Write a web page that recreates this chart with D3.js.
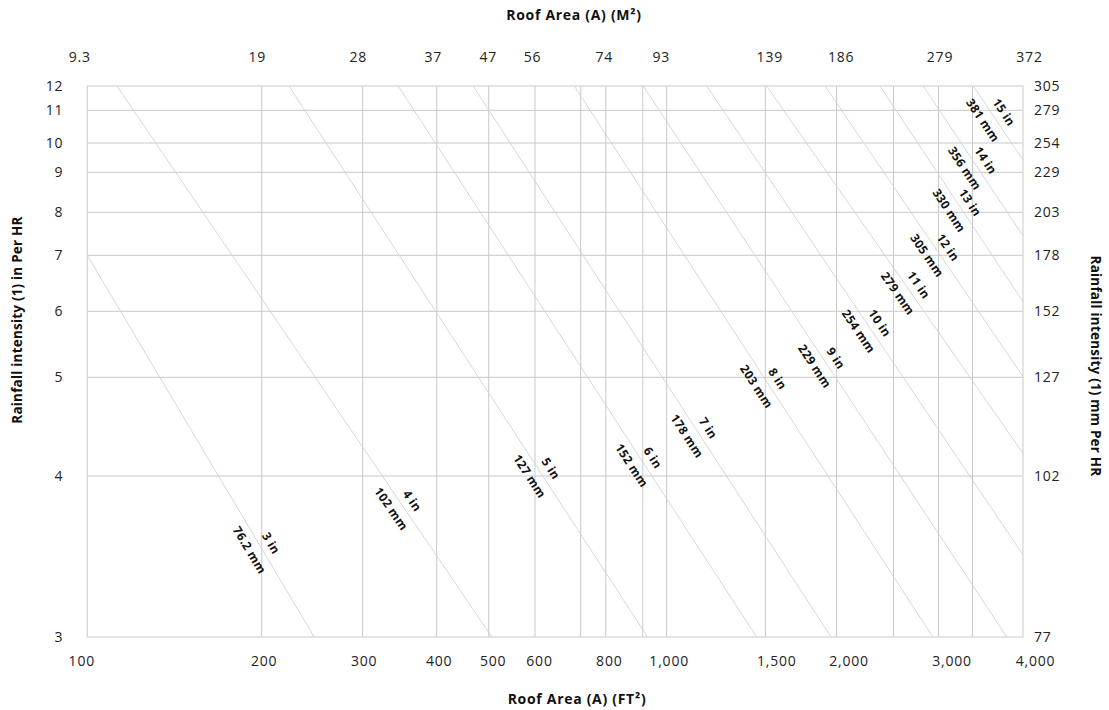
<!DOCTYPE html>
<html><head><meta charset="utf-8">
<script src="https://cdn.jsdelivr.net/npm/d3@7"></script>
<style>
body{margin:0;background:#fff;}
svg text{font-family:"Open Sans",sans-serif;}
</style>
</head><body>
<svg id="chart" width="1109" height="710"></svg>
<script>
// ---------- data ----------
const areaGridFt2 = [100,200,300,400,500,600,700,800,900,1000,1500,2000,2500,3000,3500,4000];
const areaTicksFt2 = [100,200,300,400,500,600,800,1000,1500,2000,3000,4000];
const areaTickLabelsFt2 = ["100","200","300","400","500","600","800","1,000","1,500","2,000","3,000","4,000"];
const areaTickLabelsM2 = ["9.3","19","28","37","47","56","74","93","139","186","279","372"];
const intensityTicksIn = [3,4,5,6,7,8,9,10,11,12];
const intensityLabelsMm = ["77","102","127","152","178","203","229","254","279","305"];

const drainIn = ["3 in","4 in","5 in","6 in","7 in","8 in","9 in","10 in","11 in","12 in","13 in","14 in","15 in"];
const drainMm = ["76.2 mm","102 mm","127 mm","152 mm","178 mm","203 mm","229 mm","254 mm","279 mm","305 mm","330 mm","356 mm","381 mm"];
// each capacity line runs from (fromArea, fromIntensity) to (toArea, toIntensity)
const fromArea      = [100, 117, 227, 348, 470, 686, 902, 1203, 1510, 1919, 2381, 2831, 3508];
const fromIntensity = [7,   12,  12,  12,  12,  12,  12,  12,   12,   12,   12,   12,   12];
const toArea        = [252, 507, 920, 1456, 1961, 2937, 3839, 4000, 4000, 4000, 4000, 4000, 4000];
const toIntensity   = [3,   3,   3,   3,    3,    3,    3,    3.51, 4.23, 5.01, 6.17, 7.45, 9.42];
const labelIntensity= [3.57,3.83,4.05,4.16,4.46,4.96,5.25,5.78,6.42,7.12,8.18,9.32,10.86];

// ---------- layout (the chart's irregular grid placement) ----------
const gridXpx = [87.3,261.7,362.7,436.7,488.7,535,580.7,605.8,642.8,666.7,765.3,836.6,893.5,938.5,972.5,1023];
const gridYpx = [637,476,377.3,311.3,255.3,212.3,172.3,143,110.3,86];
const ft2LabelNudge = [-6,2,1,2,4,4,3,2,11,12,13,12];
const m2LabelNudge  = [-8,-5,-5,-4,-1,-3,-2,-6,4,4,1,6];

const svg = d3.select("#chart");
const x = d3.scaleLinear().domain(areaGridFt2).range(gridXpx);
const y = d3.scaleLinear().domain(intensityTicksIn).range(gridYpx);
const [x0,x1] = [x(100), x(4000)];
const [yb,yt] = [y(3), y(12)];

const gridColor = "#c9c9c9";
svg.append("g").selectAll("line").data(areaGridFt2.slice(1,-1)).join("line")
  .attr("x1",d=>x(d)).attr("x2",d=>x(d)).attr("y1",yt).attr("y2",yb)
  .attr("stroke",gridColor).attr("stroke-width",1);
svg.append("g").selectAll("line").data(intensityTicksIn.slice(1,-1)).join("line")
  .attr("x1",x0).attr("x2",x1).attr("y1",d=>y(d)).attr("y2",d=>y(d))
  .attr("stroke",gridColor).attr("stroke-width",1);
svg.append("rect").attr("x",x0).attr("y",yt).attr("width",x1-x0).attr("height",yb-yt)
  .attr("fill","none").attr("stroke","#d2d2d2").attr("stroke-width",1.2);

const lines = drainIn.map((d,i)=>({
  p0:[x(fromArea[i]), y(fromIntensity[i])],
  p1:[x(toArea[i]), y(toIntensity[i])],
  li:labelIntensity[i], inL:d, mmL:drainMm[i]
}));
svg.append("g").selectAll("line").data(lines).join("line")
  .attr("x1",d=>d.p0[0]).attr("y1",d=>d.p0[1]).attr("x2",d=>d.p1[0]).attr("y2",d=>d.p1[1])
  .attr("stroke","#d3d3d3").attr("stroke-width",0.9);

const lab = svg.append("g").selectAll("g").data(lines).join("g")
  .attr("transform",d=>{
    const ly = y(d.li);
    const t = (ly-d.p0[1])/(d.p1[1]-d.p0[1]);
    const lx = d.p0[0] + t*(d.p1[0]-d.p0[0]);
    const ang = Math.atan2(d.p1[1]-d.p0[1], d.p1[0]-d.p0[0])*180/Math.PI;
    return `translate(${lx},${ly}) rotate(${ang})`;
  });
const labStyle = s => s.attr("text-anchor","middle").attr("dominant-baseline","central")
  .attr("font-size",12).attr("font-weight",700).attr("letter-spacing","0.3px").attr("fill","#111");
lab.append("text").text(d=>d.inL).attr("x",4).attr("y",-11).call(labStyle);
lab.append("text").text(d=>d.mmL).attr("x",-1).attr("y",11).call(labStyle);

const tickFont = g => g.selectAll("text").attr("font-size",14).attr("fill","#222")
  .attr("letter-spacing","0.8px").attr("font-family","'Open Sans',sans-serif");
const axBottom = svg.append("g").attr("transform",`translate(0,${yb})`)
  .call(d3.axisBottom(x).tickValues(areaTicksFt2).tickFormat((d,i)=>areaTickLabelsFt2[i]).tickSize(0).tickPadding(19));
axBottom.call(tickFont); axBottom.select(".domain").remove();
axBottom.selectAll(".tick text").attr("dx",(d,i)=>ft2LabelNudge[i]);

const axTop = svg.append("g").attr("transform",`translate(0,${yt})`)
  .call(d3.axisTop(x).tickValues(areaTicksFt2).tickFormat((d,i)=>areaTickLabelsM2[i]).tickSize(0).tickPadding(24));
axTop.call(tickFont); axTop.select(".domain").remove();
axTop.selectAll(".tick text").attr("dx",(d,i)=>m2LabelNudge[i]);

const axLeft = svg.append("g").attr("transform",`translate(${x0},0)`)
  .call(d3.axisLeft(y).tickValues(intensityTicksIn).tickFormat(d=>d).tickSize(0).tickPadding(24));
axLeft.call(tickFont); axLeft.select(".domain").remove();

const axRight = svg.append("g").attr("transform",`translate(${x1},0)`)
  .call(d3.axisRight(y).tickValues(intensityTicksIn).tickFormat((d,i)=>intensityLabelsMm[i]).tickSize(0).tickPadding(11));
axRight.call(tickFont); axRight.select(".domain").remove();

const title = (t,tx,ty,rot,fs,ls)=>svg.append("text").text(t)
  .attr("transform",`translate(${tx},${ty}) rotate(${rot})`)
  .attr("text-anchor","middle").attr("dominant-baseline","central")
  .attr("font-size",fs).attr("letter-spacing",ls).attr("font-weight",700).attr("fill","#111");
title("Roof Area (A) (M²)",574,14,0,14,"0.7px");
title("Roof Area (A) (FT²)",577,698,0,14,"0.7px");
title("Rainfall intensity (1) in Per HR",17,320,-90,13.5,"0.2px");
title("Rainfall intensity (1) mm Per HR",1096,366,90,13.5,"0.2px");
</script>
</body></html>
